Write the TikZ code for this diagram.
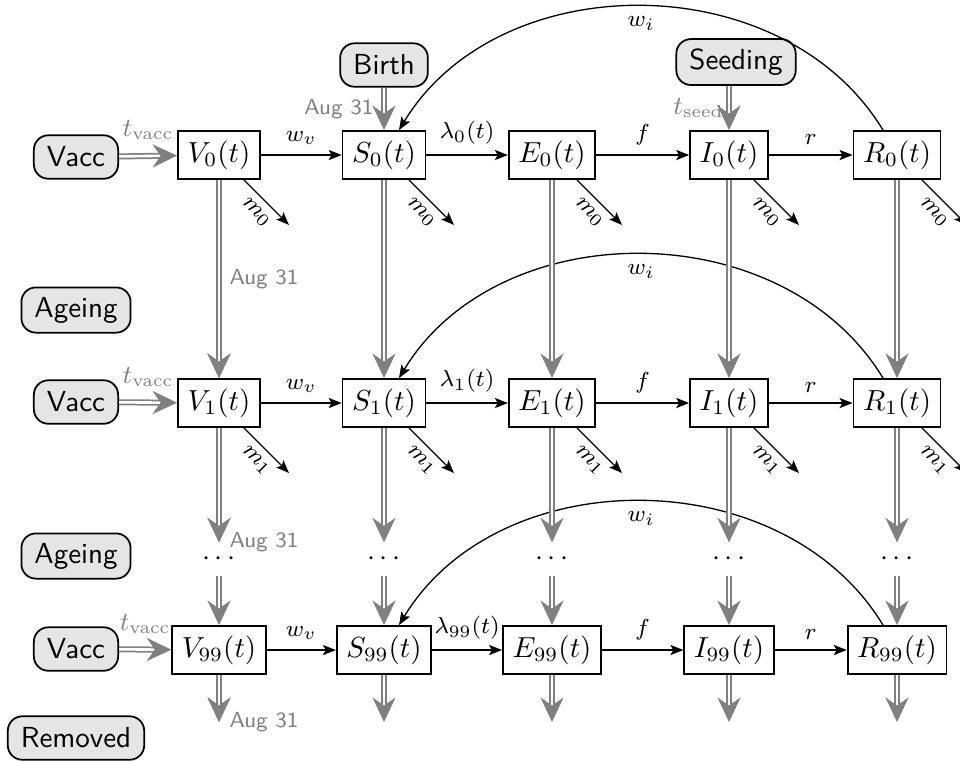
\documentclass[tikz,border=0pt]{standalone}
\usetikzlibrary{arrows.meta,calc}
\begin{document}
\begin{tikzpicture}[x=0.345pt,y=-0.345pt,
  comp/.style={draw=black, line width=0.6pt, minimum height=16.6pt, inner sep=3.3pt, fill=white},
  ext/.style={draw=black, line width=0.6pt, rounded corners=5pt, fill=gray!20, font=\sffamily, minimum height=15pt, inner xsep=4.5pt, inner ysep=3.3pt},
  flow/.style={draw=gray, double=white, double distance=0.9pt, line width=0.6pt, -{Stealth[length=8.5pt,width=8pt,inset=2.8pt]}},
  trans/.style={draw=black, line width=0.45pt, -{Stealth[length=4.5pt,width=3.5pt,inset=1pt]}},
  lbl/.style={font=\footnotesize, text=black},
  glbl/.style={font=\sffamily\fontsize{7.5}{9}\selectfont, text=gray},
  gmath/.style={font=\small, text=gray},
  dotsn/.style={inner sep=3.3pt}
]
\useasboundingbox (0,0) rectangle (960,761);
\clip (0,0) rectangle (960,761);

% compartments
\foreach \r/\y in {0/155,1/403,99/650} {
  \node[comp] (V\r) at (219,\y) {$V_{\r}(t)$};
  \node[comp] (S\r) at (384,\y) {$S_{\r}(t)$};
  \node[comp] (E\r) at (552,\y) {$E_{\r}(t)$};
  \node[comp] (I\r) at (729,\y) {$I_{\r}(t)$};
  \node[comp] (R\r) at (897,\y) {$R_{\r}(t)$};
}

% external boxes
\node[ext] (vacc0) at (76,157) {Vacc};
\node[ext] (vacc1) at (76,402) {Vacc};
\node[ext] (vacc99) at (76,649) {Vacc};
\node[ext] (age1) at (76,310) {Ageing};
\node[ext] (age2) at (76,556) {Ageing};
\node[ext] (rem) at (76,738) {Removed};
\node[ext] (birth) at (384,65) {Birth};
\node[ext] (seed) at (736,62) {Seeding};

% dots
\foreach \c/\x in {V/219,S/384,E/552,I/729,R/897} {
  \node[dotsn] (d\c) at (\x,559) {$\cdots$};
  \coordinate (b\c) at (\x,722);
}

% horizontal transitions and vaccination
\foreach \r in {0,1,99} {
  \draw[flow] (vacc\r) -- (V\r) node[midway, above=2pt, gmath] {$t_{\mathrm{vacc}}$};
  \draw[trans] (V\r) -- (S\r) node[midway, above, lbl] {$w_v$};
  \draw[trans] (S\r) -- (E\r) node[midway, above, lbl] {$\lambda_{\r}(t)$};
  \draw[trans] (E\r) -- (I\r) node[midway, above, lbl] {$f$};
  \draw[trans] (I\r) -- (R\r) node[midway, above, lbl] {$r$};
  \draw[trans] ($(R\r.north)+(-14,0)$) .. controls +(-100,-165) and +(100,-165) .. ($(S\r.north)+(15,0)$) node[pos=0.5, below, lbl] {$w_i$};
}

% mortality
\foreach \r in {0,1} {
  \foreach \c in {V,S,E,I,R} {
    \draw[trans] (\c\r) -- +(70,70) node[midway, sloped, below, inner sep=2.5pt, lbl] {$m_{\r}$};
  }
}

% ageing flows
\foreach \c in {V,S,E,I,R} {
  \draw[flow] (\c0) -- (\c1);
  \draw[flow] (\c1) -- (d\c);
  \draw[flow] (d\c) -- (\c99);
  \draw[flow] (\c99) -- (b\c);
}
\draw[flow] (V0) -- (V1) node[midway, right, glbl] {Aug 31};
\draw[flow] (V1) -- (dV) node[pos=1, right, glbl] {Aug 31};
\draw[flow] (V99) -- (bV) node[pos=1, right, glbl] {Aug 31};

% birth and seeding
\draw[flow] (birth) -- (S0) node[midway, left, glbl] {Aug 31};
\draw[flow] (seed.south -| I0.north) -- (I0) node[midway, left, inner sep=1.5pt, gmath] {$t_{\mathrm{seed}}$};
\end{tikzpicture}
\end{document}
